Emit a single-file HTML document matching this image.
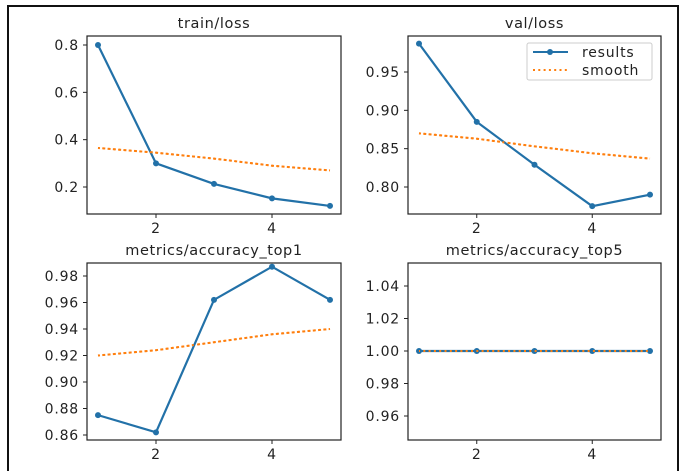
<!DOCTYPE html>
<html><head><meta charset="utf-8"><style>
html,body{margin:0;padding:0;background:#fff;}
svg{display:block;font-family:"DejaVu Sans","Liberation Sans",sans-serif;}
</style></head><body>
<svg id="chart" width="682" height="471" viewBox="0 0 682 471">
<rect x="8" y="6" width="670" height="480" fill="none" stroke="#111" stroke-width="2"/>
</svg>
<script>
const epochs=[1,2,3,4,5];
const trainLoss=[0.80,0.30,0.213,0.152,0.12];
const trainLossSmooth=[0.365,0.345,0.32,0.29,0.27];
const valLoss=[0.987,0.885,0.829,0.775,0.790];
const valLossSmooth=[0.870,0.863,0.853,0.844,0.837];
const top1=[0.875,0.862,0.962,0.987,0.962];
const top1Smooth=[0.920,0.924,0.930,0.936,0.940];
const top5=[1,1,1,1,1];
const top5Smooth=[1,1,1,1,1];
const xTicks=[2,4];
const ticksTrain=[0.2,0.4,0.6,0.8];
const ticksVal=[0.80,0.85,0.90,0.95];
const ticksTop1=[0.86,0.88,0.90,0.92,0.94,0.96,0.98];
const ticksTop5=[0.96,0.98,1.00,1.02,1.04];

const NS='http://www.w3.org/2000/svg';
const svg=document.getElementById('chart');
function mk(tag,attrs,parent){const e=document.createElementNS(NS,tag);for(const k in attrs)e.setAttribute(k,attrs[k]);(parent||svg).appendChild(e);return e;}

const panels=[
 {name:'train-loss',title:'train/loss',l:87,r:341,t:36,b:214,y0:0.2,py0:187,y1:0.8,py1:45,ticks:ticksTrain,dec:1,res:trainLoss,sm:trainLossSmooth,legend:false},
 {name:'val-loss',title:'val/loss',l:408,r:661,t:36,b:214,y0:0.80,py0:187,y1:0.95,py1:72,ticks:ticksVal,dec:2,res:valLoss,sm:valLossSmooth,legend:true},
 {name:'accuracy-top1',title:'metrics/accuracy_top1',l:87,r:341,t:263,b:440,y0:0.86,py0:435,y1:0.98,py1:276,ticks:ticksTop1,dec:2,res:top1,sm:top1Smooth,legend:false},
 {name:'accuracy-top5',title:'metrics/accuracy_top5',l:408,r:661,t:263,b:440,y0:0.96,py0:416,y1:1.04,py1:286,ticks:ticksTop5,dec:2,res:top5,sm:top5Smooth,legend:false}
];
const TS='font-size:14px;letter-spacing:0.8px';
panels.forEach(p=>{
 const g=mk('g',{});
 
 
 const xs=v=>p.l+11+(v-1)*(p.r-p.l-22)/4;
 const ys=v=>p.py0+(v-p.y0)*(p.py1-p.py0)/(p.y1-p.y0);
 const t=mk('text',{x:(p.l+p.r)/2,y:p.t-8,'text-anchor':'middle',style:'font-size:14.5px;letter-spacing:0.6px',fill:'#222'},g);
 t.textContent=p.title;
 
 
 p.ticks.forEach(v=>{const y=ys(v);
  mk('line',{x1:p.l-4,x2:p.l,y1:y,y2:y,stroke:'#222'},g);
  const tx=mk('text',{x:p.l-8,y:y+5,'text-anchor':'end',style:TS,fill:'#222'},g);
  tx.textContent=v.toFixed(p.dec);
  
  
 });
 xTicks.forEach(v=>{const x=xs(v);
  mk('line',{x1:x,x2:x,y1:p.b,y2:p.b+4,stroke:'#222'},g);
  const tx=mk('text',{x:x,y:p.b+19,'text-anchor':'middle',style:TS,fill:'#222'},g);
  tx.textContent=v;
  
  
 });
 const sm0=mk('polyline',{points:epochs.map((e,i)=>xs(e)+','+ys(p.sm[i])).join(' '),fill:'none',stroke:'#ff7f0e','stroke-width':2,'stroke-dasharray':'2,3.3'},g);
 const ln=mk('polyline',{points:epochs.map((e,i)=>xs(e)+','+ys(p.res[i])).join(' '),fill:'none',stroke:'#2271a8','stroke-width':2.2},g);
 
 
 epochs.forEach((e,i)=>{const c=mk('circle',{cx:xs(e),cy:ys(p.res[i]),r:3,fill:'#2271a8'},g);
  
  });
 const sm=mk('polyline',{points:epochs.map((e,i)=>xs(e)+','+ys(p.sm[i])).join(' '),fill:'none',stroke:'#ff7f0e','stroke-width':2,'stroke-dasharray':'2,3.3','stroke-dashoffset':1},g);
 
 
 mk('rect',{x:p.l,y:p.t,width:p.r-p.l,height:p.b-p.t,fill:'none',stroke:'#222','stroke-width':1.2},g);
 if(p.legend){
  const lg=mk('g',{},g);
  
  
  mk('rect',{x:527,y:43,width:125,height:37,rx:2,fill:'#fff',stroke:'#ccc'},lg);
  mk('line',{x1:533,x2:568,y1:52,y2:52,stroke:'#2271a8','stroke-width':2},lg);
  mk('circle',{cx:550,cy:52,r:3,fill:'#2271a8'},lg);
  const a=mk('text',{x:582,y:57,style:TS,fill:'#222'},lg);a.textContent='results';
  
  
  mk('line',{x1:533,x2:568,y1:70,y2:70,stroke:'#ff7f0e','stroke-width':2,'stroke-dasharray':'2,3.3'},lg);
  const b=mk('text',{x:582,y:75,style:TS,fill:'#222'},lg);b.textContent='smooth';
  
  
 }
});
</script>
</body></html>
